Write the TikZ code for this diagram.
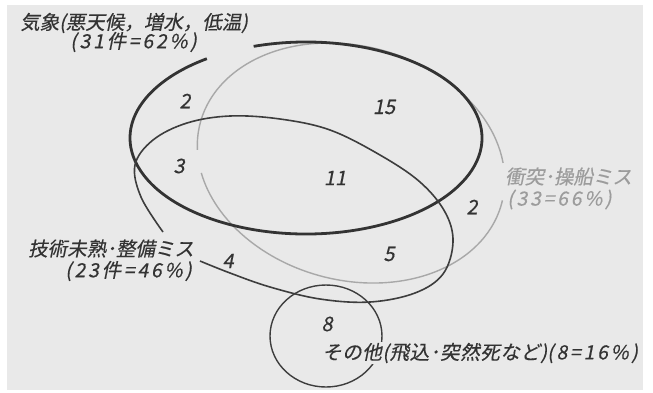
\documentclass[tikz,border=0pt]{standalone}
\usepackage{fontspec}
\newfontfamily\jp[FakeSlant=0.2,FakeBold=0.4]{Noto Sans CJK JP}
\newfontfamily\jpn[FakeSlant=0.2,FakeBold=0.4,LetterSpace=14]{Noto Sans CJK JP}
\newfontfamily\jpo[FakeSlant=0.2,FakeBold=0.4,LetterSpace=3]{Noto Sans CJK JP}
\definecolor{bg}{HTML}{E9E9E9}
\definecolor{ink}{HTML}{333333}
\definecolor{lgray}{HTML}{A8A8A8}
\definecolor{ltext}{HTML}{9C9C9C}
\tikzset{
  num/.style={font=\jp\fontsize{20}{20}\selectfont, text=ink, inner sep=0pt},
  lab/.style={font=\jp\fontsize{19.5}{20}\selectfont, text=ink, inner sep=0pt, anchor=west},
  weatherline/.style={line width=2.8pt, draw=ink},
  techline/.style={line width=1.6pt, draw=ink!95},
  collline/.style={line width=1.4pt, draw=lgray},
  otherline/.style={line width=1.4pt, draw=ink!95},
}
\begin{document}
\begin{tikzpicture}[x=1pt,y=1pt,yscale=-1]
\useasboundingbox (0,0) rectangle (653,392);
\fill[bg] (7,5) rectangle (643,390);
% collision (light gray)
\begin{scope}[shift={(351,163)},rotate=15]
  \draw[collline] (-1.5:156 and 117) arc[start angle=-1.5,end angle=155.6,x radius=156,y radius=117];
  \draw[collline] (166.6:156 and 117) arc[start angle=166.6,end angle=340.3,x radius=156,y radius=117];
\end{scope}
% weather (thick)
\begin{scope}[shift={(306,138)}]
  \draw[weatherline] (-107.3:176 and 96) arc[start angle=-107.3,end angle=235.7,x radius=176,y radius=96];
\end{scope}
% technical
\draw[techline] plot[smooth,tension=0.6] coordinates {(163,232) (141,197) (135,165) (153,140) (187,123) (230,116) (280,119) (330,130) (380,155) (420,182) (445,212) (453,242) (443,274) (415,293) (370,302) (320,299) (270,287) (230,273) (200,261)};
% other
\draw[otherline] (326,336) ellipse[x radius=56,y radius=51];
% labels
\node[lab] (lw1) at (20,23) {気象(悪天候，増水，低温)};
\node[lab] (lw2) at (70,42) {{\jpn(31件=62\%)}};
\node[lab,text=ltext] (lc1) at (505,176.5) {衝突･操船ミス};
\node[lab,text=ltext] (lc2) at (507,199.5) {{\jpn(33=66\%)}};
\node[lab] (lt1) at (28,248.5) {技術未熟･整備ミス};
\node[lab] (lt2) at (65,271) {{\jpn(23件=46\%)}};
\node[lab,fill=bg,inner sep=1pt] (lo) at (321,353) {{\jpo その他(飛込･突然死など)}{\jpn(8=16\%)}};
% numbers
\node[num] (n2a) at (185,101) {2};
\node[num] (n15) at (384,107) {15};
\node[num] (n3) at (179,166) {3};
\node[num] (n11) at (335,178) {11};
\node[num] (n2b) at (472,207) {2};
\node[num] (n5) at (389,254) {5};
\node[num] (n4) at (228,261) {4};
\node[num] (n8) at (327,324) {8};
\end{tikzpicture}
\end{document}
